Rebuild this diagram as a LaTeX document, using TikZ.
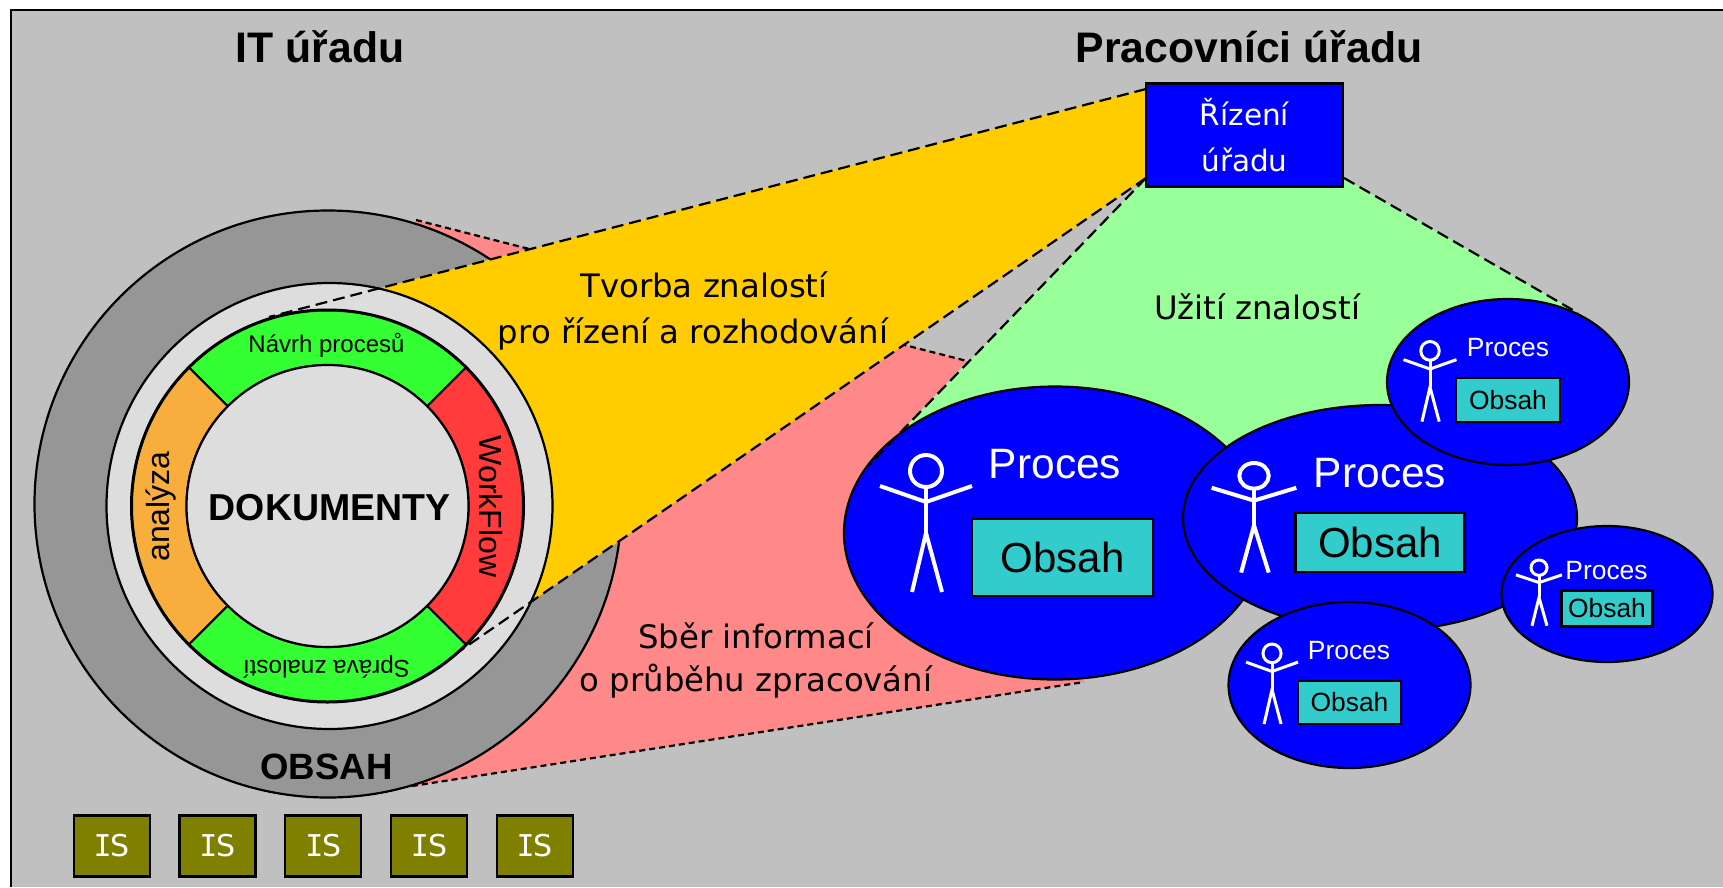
\documentclass[tikz,border=0pt]{standalone}
\usepackage{fontspec}
\setmainfont{Liberation Sans}
\newfontfamily\verd{DejaVu Sans}
\newfontfamily\verdmono{DejaVu Sans Mono}
\usetikzlibrary{shapes.geometric}
\definecolor{bgc}{HTML}{C0C0C0}
\definecolor{dgray}{HTML}{969696}
\definecolor{lgray}{HTML}{DDDDDD}
\definecolor{gold}{HTML}{FFCC00}
\definecolor{pinkc}{HTML}{FF8888}
\definecolor{lgreen}{HTML}{99FF99}
\definecolor{sgreen}{HTML}{33FF33}
\definecolor{sorange}{HTML}{F7AE3C}
\definecolor{sred}{HTML}{FF3B3B}
\definecolor{tealc}{HTML}{33CCCC}
\definecolor{olivec}{HTML}{808000}
\newcommand{\fs}[1]{\fontsize{#1}{#1}\selectfont}
\newcommand{\istext}{{\verdmono I}\kern-1pt S}
\tikzset{
  x=1pt,y=-1pt,
  outl/.style={draw=black,line width=2.2pt},
  disc/.style={circle,outl,inner sep=0pt},
  blob/.style={ellipse,outl,fill=blue,inner sep=0pt},
  obox/.style={rectangle,draw=black,line width=2.4pt,fill=tealc,inner sep=0pt,text=black},
  isbox/.style={rectangle,draw=black,line width=2.2pt,fill=olivec,inner sep=0pt,minimum width=76pt,minimum height=61pt,text=white,font=\verd\fs{30}},
  longdash/.style={draw=black,line width=2.2pt,dash pattern=on 12pt off 6pt},
  shortdash/.style={draw=black,line width=2.2pt,dash pattern=on 6pt off 4pt},
  sector/.style={draw=black,line width=2pt},
  fig/.style={draw=white,line width=#1,line cap=butt},
  caption/.style={font=\verd\fs{32.3},text=black,inner sep=0pt},
}
% stick figure: centre x, top y, x scale, y scale, line width
\newcommand{\stickman}[5]{%
  \begin{scope}[shift={(#1,#2)},xscale=#3,yscale=#4]
    \draw[fig=#5pt] (0,16) circle[x radius=16,y radius=16];
    \draw[fig=#5pt] (0,32) -- (0,78);
    \draw[fig=#5pt] (-46,31) -- (0,47) -- (46,31);
    \draw[fig=#5pt] (-14,137) -- (0,78) -- (16,137);
  \end{scope}}
\begin{document}
\begin{tikzpicture}
\useasboundingbox (0,0) rectangle (1723,887);
\fill[white] (0,0) rectangle (1723,887);
\fill[bgc] (11,10) rectangle (1723,887);
\draw[black,line width=2.5pt] (11,887) -- (11,10) -- (1723,10);

% anchor points
\coordinate (pinkA) at (416,220);
\coordinate (pinkB) at (967,361);
\coordinate (pinkC) at (1084,682);
\coordinate (pinkD) at (412,786);
\coordinate (greenL) at (869,465);
\coordinate (greenR) at (1578,313);
\coordinate (goldT) at (269,317);
\coordinate (goldB) at (422,677);
\coordinate (boxTL) at (1146,89);
\coordinate (boxBL) at (1146,178);
\coordinate (boxBR) at (1344,178);

% pink wedge
\fill[pinkc] (pinkA) -- (pinkB) -- (greenL) -- (pinkC) -- (pinkD) -- cycle;

% outer disc
\node[disc,fill=dgray,minimum size=587pt] (outer) at (328,504) {};
\draw[shortdash] (pinkA) -- (pinkB);
\node[font=\bfseries\fs{36.6}] (obsahT) at (326.5,766.5) {OBSAH};

% green wedge
\fill[lgreen] (boxBL) -- (boxBR) -- (greenR) -- (1300,520) -- (900,520) -- (greenL) -- cycle;

% gold wedge
\fill[gold] (boxTL) -- (boxBL) -- (goldB) -- (goldT) -- cycle;

% ring
\node[disc,fill=lgray,minimum size=446pt] (ring) at (329.5,506) {};
\draw[longdash] (boxTL) -- (goldT);
\draw[longdash] (boxBL) -- (goldB);

% coloured sectors
\coordinate (cen) at (327.5,506);
\draw[sector,fill=sgreen] ([shift={(45:196pt)}]cen) arc[start angle=45,end angle=135,radius=196pt] -- ([shift={(135:141pt)}]cen) arc[start angle=135,end angle=45,radius=141pt] -- cycle;
\draw[sector,fill=sorange] ([shift={(135:196pt)}]cen) arc[start angle=135,end angle=225,radius=196pt] -- ([shift={(225:141pt)}]cen) arc[start angle=225,end angle=135,radius=141pt] -- cycle;
\draw[sector,fill=sgreen] ([shift={(225:196pt)}]cen) arc[start angle=225,end angle=315,radius=196pt] -- ([shift={(315:141pt)}]cen) arc[start angle=315,end angle=225,radius=141pt] -- cycle;
\draw[sector,fill=sred] ([shift={(315:196pt)}]cen) arc[start angle=315,end angle=405,radius=196pt] -- ([shift={(45:141pt)}]cen) arc[start angle=45,end angle=-45,radius=141pt] -- cycle;
\draw[black,line width=3pt] (cen) circle[radius=196pt];
\node[disc,fill=lgray,minimum size=282pt] (core) at (cen) {};
\node[font=\bfseries\fs{37.5}] (dok) at (329.6,508) {DOKUMENTY};
\node[font=\fs{24}] (navrh) at (326.5,345) {Návrh procesů};
\node[font=\fs{24.2},rotate=180] (sprava) at (326.5,666.5) {Správa znalostí};
\node[font=\fs{32},rotate=90] (analyza) at (161.5,506.5) {analýza};
\node[font=\fs{32},rotate=-90] (workflow) at (490.5,506.5) {WorkFlow};

% titles
\node[font=\bfseries\fs{42.7}] (t1) at (320,47) {IT úřadu};
\node[font=\bfseries\fs{42.7}] (t2) at (1249,47) {Pracovníci úřadu};

% control box
\node[rectangle,draw=black,line width=2.8pt,fill=blue,text=white,inner sep=0pt,minimum width=197pt,minimum height=103pt,align=center,font=\verd\fontsize{29.5}{46}\selectfont] (rizeni) at (1244.5,135) {Řízení\\úřadu};

% captions
\node[caption] (tvorba1) at (704,285) {Tvorba znalostí};
\node[caption] (tvorba2) at (693,334) {pro řízení a rozhodování};
\node[caption] (uziti) at (1257,307) {Užití znalostí};
\node[caption] (sber1) at (756,636) {Sběr informací};
\node[caption] (sber2) at (756,681) {o průběhu zpracování};

% process A
\node[blob,minimum width=422pt,minimum height=293pt] (pa) at (1055,533) {};
\draw[longdash] (boxBL) -- (greenL);
\draw[longdash] (boxBR) -- (greenR);
\draw[shortdash] (pinkD) -- (pinkC);
\stickman{926}{455}{1}{1}{4}
\node[text=white,font=\fs{42.5}] (pat) at (1055,464) {Proces};
\node[obox,minimum width=181pt,minimum height=77pt,font=\fs{42}] (pab) at (1062.5,557.5) {Obsah};
% process B
\node[blob,minimum width=394pt,minimum height=226pt] (pb) at (1380,518) {};
\stickman{1254}{463}{.92}{.80}{4}
\node[text=white,font=\fs{42.5}] (pbt) at (1380,473) {Proces};
\node[obox,minimum width=169pt,minimum height=59pt,font=\fs{42}] (pbb) at (1380,542.5) {Obsah};
% process C
\node[blob,minimum width=242pt,minimum height=166pt] (pc) at (1508,382) {};
\stickman{1430}{341.5}{.576}{.585}{3}
\node[text=white,font=\fs{26.4}] (pct) at (1508,348) {Proces};
\node[obox,minimum width=104pt,minimum height=44pt,font=\fs{26.4}] (pcb) at (1508,400) {Obsah};
% process D
\node[blob,minimum width=211pt,minimum height=136pt] (pd) at (1607,594) {};
\stickman{1539}{560}{.5}{.48}{3}
\node[text=white,font=\fs{26.4}] (pdt) at (1606.5,571) {Proces};
\node[obox,minimum width=91pt,minimum height=36pt,font=\fs{26.4}] (pdb) at (1607,608.5) {Obsah};
% process E
\node[blob,minimum width=242pt,minimum height=166pt] (pe) at (1349.5,685) {};
\stickman{1272}{644}{.565}{.584}{3}
\node[text=white,font=\fs{26.4}] (pet) at (1349,651) {Proces};
\node[obox,minimum width=103pt,minimum height=43pt,font=\fs{26.4}] (peb) at (1349.5,702.5) {Obsah};

% IS boxes
\node[isbox] (is1) at (111.8,846) {\istext};
\node[isbox] (is2) at (217.5,846) {\istext};
\node[isbox] (is3) at (323.3,846) {\istext};
\node[isbox] (is4) at (429,846) {\istext};
\node[isbox] (is5) at (534.7,846) {\istext};
\end{tikzpicture}
\end{document}
